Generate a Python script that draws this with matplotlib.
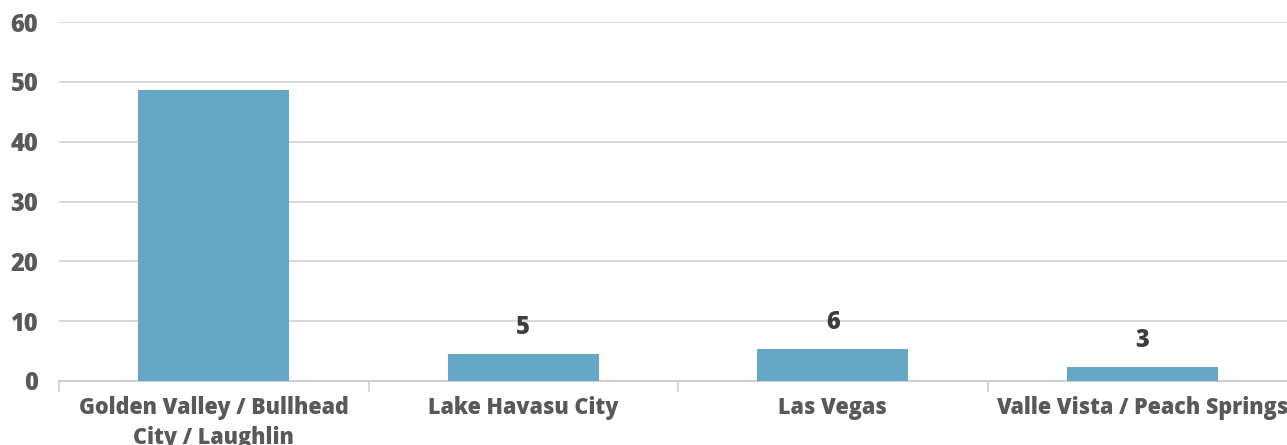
import matplotlib.pyplot as plt
import numpy as np

# Data
categories = ["Golden Valley / Bullhead\nCity / Laughlin", "Lake Havasu City",
              "Las Vegas", "Valle Vista / Peach Springs"]
values = [48.6, 4.5, 5.4, 2.4]
value_labels = ["", "5", "6", "3"]
y_ticks = [0, 10, 20, 30, 40, 50, 60]

plt.rcParams['font.family'] = ['Open Sans', 'DejaVu Sans']

fig = plt.figure(figsize=(12.87, 4.45), dpi=100)
# axes runs slightly past the right edge, as in the reference
ax = fig.add_axes([59 / 1287, 64 / 445, 1238 / 1287, 359 / 445])

x = np.arange(len(categories))
bars = ax.bar(x, values, width=0.488, color="#65a7c4", zorder=3)

for b, lab in zip(bars, value_labels):
    if lab:
        ax.annotate(lab, (b.get_x() + b.get_width() / 2, b.get_height()),
                    xytext=(0, 10), textcoords="offset points",
                    ha="center", va="bottom", fontsize=17, fontweight=800,
                    color="#3d3d3d")

ax.set_xlim(-0.5, len(categories) - 0.5)
ax.set_ylim(0, 60)
ax.set_yticks(y_ticks)
ax.set_xticks(x)
ax.set_xticklabels(categories, fontsize=15.5, fontweight=800, color="#595959",
                   linespacing=1.3)
ax.set_xticks(np.arange(len(categories) + 1) - 0.5, minor=True)

ax.grid(axis="y", color="#d9d9d9", linewidth=1.5, zorder=0)
ax.tick_params(axis="y", length=0, pad=15, labelsize=17, labelcolor="#595959")
for t in ax.get_yticklabels():
    t.set_fontweight(800)
ax.tick_params(axis="x", which="major", length=0, pad=11)
ax.tick_params(axis="x", which="minor", length=8, width=1.2, color="#d0d0d0")

for s in ["top", "right", "left"]:
    ax.spines[s].set_visible(False)
ax.spines["bottom"].set_color("#d0d0d0")
ax.spines["bottom"].set_linewidth(1.5)

fig.savefig("out.png", dpi=100)
